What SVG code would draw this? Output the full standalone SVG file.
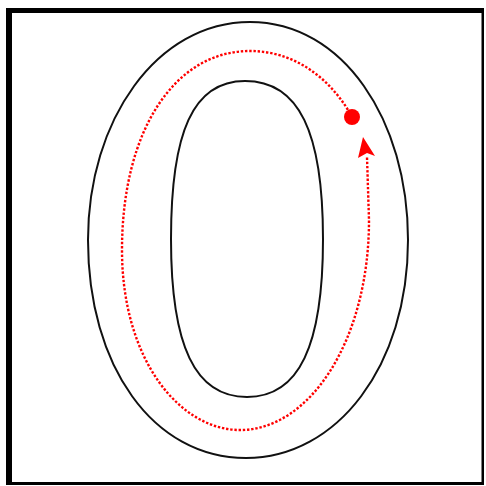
<svg xmlns="http://www.w3.org/2000/svg" width="486" height="486" viewBox="0 0 486 486">
<style>
.frame{fill:#000}
.o{fill:none;stroke:#111;stroke-width:2}
.path{fill:none;stroke:#f00;stroke-width:2.4;stroke-dasharray:2.4 1.8}
.red{fill:#f00}
</style>
<rect width="486" height="486" fill="#fff"/>
<g id="frame">
<rect class="frame" x="6" y="8" width="478" height="5"/>
<rect class="frame" x="6" y="8" width="6" height="477"/>
<rect class="frame" x="481.5" y="8" width="2.5" height="477"/>
<rect class="frame" x="6" y="482" width="478" height="3"/>
</g>
<g id="outer">
<path class="o" d="M250,22 C343,22 408,120 408,240 C408,366 337,458 246,458 C153,458 88,366 88,240 C88,120 157,22 250,22 Z"/>
</g>
<g id="inner">
<path class="o" d="M245,81 C299,81 323,132 323,239 C323,346 299,397 247,397 C195,397 171,346 171,239 C171,132 193,81 245,81 Z"/>
</g>
<g id="connectors">
<path class="path" d="M352,117 C335,85 300,51 250,51 C175,51 122,130 122,250 C122,360 180,430 240,430 C310,430 369,340 369,220 L367,157"/>
<path class="red" d="M363,137 L375,156 L367,153 L358,158 Z"/>
<circle id="start" class="red" cx="352" cy="117" r="8"/>
</g>
</svg>
